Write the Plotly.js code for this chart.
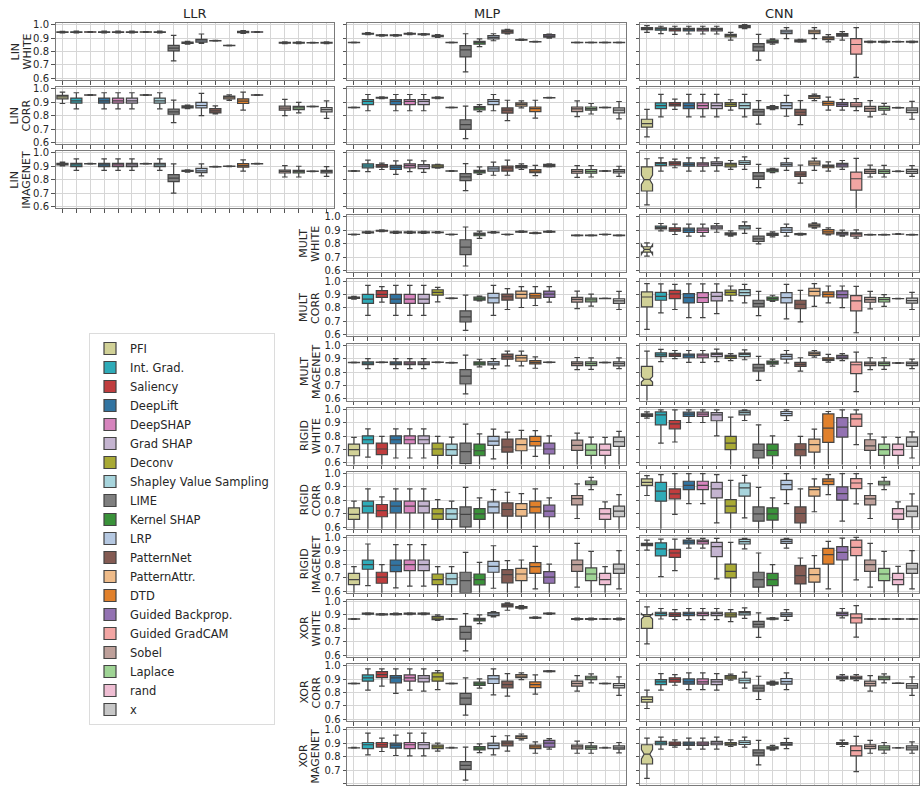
<!DOCTYPE html>
<html><head><meta charset="utf-8">
<script src="https://cdn.plot.ly/plotly-3.0.1.min.js"></script>
<style>html,body{margin:0;padding:0;background:#fff}#chart{width:921px;height:786px}</style>
</head><body><div id="chart"></div>
<script>
const METHODS = ['PFI','Int. Grad.','Saliency','DeepLift','DeepSHAP','Grad SHAP','Deconv','Shapley Value Sampling','LIME','Kernel SHAP','LRP','PatternNet','PatternAttr.','DTD','Guided Backprop.','Guided GradCAM','Sobel','Laplace','rand','x'];
const COLORS = ['#d1d197','#2eabb8','#c03d3e','#3274a1','#d684bd','#c4b4d0','#a9aa35','#a7d4dc','#7f7f7f','#3a923a','#b5c8e1','#845b53','#eebb89','#e1812c','#9372b2','#f2a5a3','#bea09a','#9fd495','#efbed3','#c7c7c7'];
const COLUMNS = ['LLR','MLP','CNN'];
const ROW_LINE1 = ['LIN','LIN','LIN','MULT','MULT','MULT','RIGID','RIGID','RIGID','XOR','XOR','XOR'];
const ROW_LINE2 = ['WHITE','CORR','IMAGENET','WHITE','CORR','MAGENET','WHITE','CORR','IMAGENET','WHITE','CORR','MAGENET'];
const Y_TICKS = [0.6,0.7,0.8,0.9,1.0];
const Y_TICK_TEXT = ['0.6','0.7','0.8','0.9','1.0'];
// notch half-spans of the PFI boxes in the CNN column, by row
const CNN_PFI_NOTCH = [0, 0, 0.035, 0.037, 0, 0.02, 0, 0, 0, 0.02, 0, 0.035];

// each entry: [lower whisker, q1, median, q3, upper whisker]
const LLR_LIN_WHITE = [
 [0.938,0.942,0.945,0.947,0.950],[0.938,0.942,0.945,0.947,0.951],[0.942,0.944,0.945,0.946,0.948],[0.938,0.942,0.945,0.947,0.951],
 [0.938,0.942,0.945,0.947,0.951],[0.938,0.942,0.945,0.947,0.951],[0.942,0.944,0.945,0.946,0.948],[0.938,0.942,0.945,0.947,0.951],
 [0.730,0.805,0.825,0.845,0.920],[0.855,0.860,0.865,0.870,0.875],[0.860,0.870,0.880,0.890,0.930],[0.877,0.879,0.880,0.881,0.883],
 [0.842,0.844,0.845,0.846,0.848],[0.935,0.940,0.945,0.950,0.955],[0.942,0.944,0.945,0.946,0.948],null,
 [0.858,0.862,0.865,0.868,0.872],[0.858,0.862,0.865,0.868,0.872],[0.862,0.864,0.865,0.866,0.868],[0.858,0.862,0.865,0.868,0.872]];
const LLR_LIN_CORR = [
 [0.890,0.925,0.940,0.950,0.975],[0.850,0.893,0.910,0.930,0.970],[0.950,0.952,0.953,0.954,0.956],[0.850,0.893,0.910,0.930,0.970],
 [0.850,0.893,0.910,0.930,0.970],[0.850,0.893,0.910,0.930,0.970],[0.950,0.952,0.953,0.954,0.956],[0.850,0.893,0.910,0.930,0.970],
 [0.748,0.810,0.828,0.848,0.915],[0.852,0.858,0.865,0.872,0.878],[0.800,0.858,0.875,0.898,0.965],[0.812,0.820,0.835,0.852,0.872],
 [0.913,0.925,0.937,0.945,0.955],[0.840,0.890,0.908,0.925,0.975],[0.950,0.952,0.953,0.954,0.956],null,
 [0.800,0.840,0.855,0.870,0.920],[0.820,0.845,0.857,0.868,0.898],[0.864,0.866,0.867,0.868,0.870],[0.780,0.828,0.845,0.860,0.910]];
const LLR_LIN_IMAGENET = [
 [0.903,0.910,0.915,0.922,0.930],[0.870,0.898,0.910,0.922,0.955],[0.915,0.917,0.918,0.919,0.921],[0.870,0.898,0.910,0.922,0.955],
 [0.870,0.898,0.910,0.922,0.955],[0.870,0.898,0.910,0.922,0.955],[0.915,0.917,0.918,0.919,0.921],[0.870,0.898,0.910,0.922,0.955],
 [0.700,0.785,0.812,0.838,0.917],[0.857,0.861,0.865,0.869,0.873],[0.828,0.852,0.866,0.884,0.917],[0.894,0.896,0.897,0.898,0.900],
 [0.897,0.899,0.900,0.901,0.903],[0.864,0.893,0.905,0.920,0.948],[0.915,0.917,0.918,0.919,0.921],null,
 [0.820,0.850,0.862,0.872,0.905],[0.820,0.850,0.860,0.870,0.900],[0.860,0.862,0.863,0.864,0.866],[0.825,0.850,0.860,0.870,0.897]];

const MLP_LIN_WHITE = [
 [0.864,0.866,0.867,0.868,0.870],[0.925,0.929,0.932,0.935,0.940],[0.914,0.917,0.920,0.923,0.926],[0.914,0.917,0.920,0.923,0.926],
 [0.926,0.929,0.932,0.935,0.938],[0.922,0.925,0.928,0.931,0.934],[0.905,0.910,0.915,0.920,0.925],[0.864,0.866,0.867,0.868,0.870],
 [0.648,0.760,0.812,0.843,0.932],[0.836,0.855,0.868,0.875,0.894],[0.880,0.894,0.905,0.918,0.932],[0.930,0.937,0.950,0.960,0.965],
 [0.882,0.885,0.887,0.889,0.892],[0.869,0.871,0.872,0.873,0.875],[0.900,0.906,0.915,0.925,0.930],null,
 [0.864,0.866,0.867,0.868,0.870],[0.864,0.866,0.867,0.868,0.870],[0.864,0.866,0.867,0.868,0.870],[0.864,0.866,0.867,0.868,0.870]];
const MLP_LIN_CORR = [
 [0.857,0.859,0.860,0.861,0.863],[0.836,0.881,0.905,0.919,0.957],[0.926,0.930,0.933,0.936,0.940],[0.836,0.881,0.905,0.919,0.957],
 [0.836,0.881,0.905,0.919,0.957],[0.836,0.881,0.905,0.919,0.957],[0.926,0.930,0.933,0.936,0.940],[0.857,0.859,0.860,0.861,0.863],
 [0.629,0.698,0.733,0.769,0.871],[0.829,0.843,0.857,0.867,0.881],[0.836,0.881,0.905,0.919,0.957],[0.762,0.819,0.840,0.857,0.914],
 [0.857,0.871,0.883,0.895,0.910],[0.781,0.829,0.852,0.864,0.914],[0.930,0.932,0.933,0.934,0.936],null,
 [0.793,0.829,0.850,0.864,0.910],[0.812,0.840,0.852,0.864,0.890],[0.857,0.859,0.860,0.861,0.863],[0.776,0.821,0.840,0.857,0.905]];
const MLP_LIN_IMAGENET = [
 [0.861,0.863,0.864,0.865,0.867],[0.860,0.888,0.902,0.917,0.945],[0.876,0.893,0.902,0.912,0.924],[0.840,0.876,0.893,0.907,0.940],
 [0.860,0.888,0.905,0.917,0.945],[0.855,0.883,0.900,0.912,0.940],[0.885,0.890,0.900,0.910,0.915],[0.861,0.863,0.864,0.865,0.867],
 [0.719,0.793,0.821,0.845,0.919],[0.840,0.850,0.860,0.869,0.895],[0.833,0.864,0.881,0.895,0.931],[0.833,0.864,0.888,0.902,0.945],
 [0.876,0.888,0.897,0.905,0.917],[0.831,0.852,0.864,0.876,0.907],[0.895,0.898,0.905,0.914,0.918],null,
 [0.817,0.848,0.862,0.876,0.905],[0.820,0.848,0.860,0.875,0.905],[0.861,0.863,0.864,0.865,0.867],[0.825,0.850,0.862,0.875,0.900]];
const MLP_MULT_WHITE = [
 [0.867,0.869,0.870,0.871,0.873],[0.878,0.882,0.885,0.888,0.892],[0.891,0.894,0.897,0.900,0.903],[0.878,0.882,0.885,0.888,0.892],
 [0.878,0.882,0.885,0.888,0.892],[0.878,0.882,0.885,0.888,0.892],[0.880,0.883,0.885,0.887,0.890],[0.867,0.869,0.870,0.871,0.873],
 [0.635,0.720,0.775,0.830,0.925],[0.840,0.860,0.870,0.880,0.895],[0.880,0.883,0.885,0.887,0.890],[0.867,0.869,0.870,0.871,0.873],
 [0.884,0.887,0.890,0.893,0.896],[0.875,0.878,0.880,0.882,0.885],[0.884,0.887,0.890,0.893,0.896],null,
 [0.858,0.860,0.862,0.864,0.866],[0.858,0.860,0.862,0.864,0.866],[0.867,0.869,0.870,0.871,0.873],[0.858,0.860,0.862,0.864,0.866]];
const MLP_MULT_CORR = [
 [0.865,0.870,0.875,0.880,0.885],[0.745,0.833,0.865,0.900,0.968],[0.843,0.878,0.900,0.928,0.958],[0.745,0.833,0.865,0.900,0.968],
 [0.745,0.833,0.865,0.900,0.968],[0.745,0.833,0.865,0.900,0.968],[0.845,0.895,0.915,0.935,0.953],[0.869,0.871,0.872,0.873,0.875],
 [0.633,0.695,0.733,0.778,0.895],[0.853,0.858,0.868,0.880,0.888],[0.745,0.838,0.875,0.908,0.968],[0.788,0.858,0.883,0.903,0.943],
 [0.803,0.873,0.900,0.925,0.958],[0.818,0.873,0.890,0.908,0.958],[0.843,0.878,0.903,0.925,0.958],null,
 [0.795,0.843,0.863,0.878,0.925],[0.813,0.845,0.860,0.873,0.903],[0.868,0.869,0.870,0.871,0.872],[0.788,0.833,0.853,0.868,0.923]];
const MLP_MULT_IMAGENET = [
 [0.867,0.869,0.870,0.871,0.873],[0.825,0.855,0.865,0.875,0.900],[0.869,0.871,0.872,0.873,0.875],[0.825,0.855,0.865,0.875,0.900],
 [0.825,0.855,0.865,0.875,0.900],[0.825,0.855,0.865,0.875,0.900],[0.869,0.871,0.872,0.873,0.875],[0.865,0.867,0.868,0.869,0.871],
 [0.638,0.712,0.770,0.818,0.925],[0.838,0.853,0.865,0.875,0.895],[0.825,0.853,0.865,0.878,0.900],[0.845,0.895,0.915,0.933,0.955],
 [0.845,0.880,0.905,0.923,0.955],[0.828,0.860,0.872,0.885,0.913],[0.869,0.871,0.872,0.873,0.875],null,
 [0.818,0.848,0.862,0.875,0.908],[0.820,0.848,0.862,0.875,0.905],[0.867,0.869,0.870,0.871,0.873],[0.825,0.845,0.862,0.875,0.905]];
const MLP_RIGID_WHITE = [
 [0.550,0.654,0.699,0.741,0.790],[0.644,0.743,0.773,0.802,0.854],[0.550,0.662,0.704,0.748,0.798],[0.637,0.743,0.773,0.802,0.854],
 [0.637,0.743,0.773,0.802,0.854],[0.637,0.743,0.773,0.802,0.854],[0.550,0.657,0.704,0.748,0.798],[0.550,0.657,0.699,0.741,0.793],
 [0.500,0.595,0.684,0.748,0.889],[0.550,0.654,0.691,0.741,0.817],[0.630,0.731,0.763,0.798,0.852],[0.550,0.681,0.719,0.778,0.830],
 [0.550,0.691,0.736,0.780,0.842],[0.649,0.728,0.760,0.798,0.840],[0.550,0.667,0.704,0.748,0.802],null,
 [0.550,0.694,0.731,0.770,0.822],[0.550,0.657,0.696,0.741,0.793],[0.550,0.657,0.696,0.741,0.790],[0.550,0.723,0.758,0.793,0.835]];
const MLP_RIGID_CORR = [
 [0.550,0.657,0.694,0.743,0.793],[0.550,0.706,0.756,0.793,0.884],[0.550,0.677,0.723,0.768,0.825],[0.550,0.706,0.756,0.793,0.884],
 [0.550,0.706,0.756,0.793,0.884],[0.550,0.706,0.756,0.793,0.884],[0.550,0.657,0.699,0.738,0.805],[0.550,0.657,0.699,0.738,0.793],
 [0.500,0.602,0.694,0.750,0.896],[0.550,0.657,0.699,0.738,0.817],[0.550,0.706,0.750,0.788,0.879],[0.550,0.681,0.731,0.780,0.859],
 [0.550,0.681,0.731,0.775,0.849],[0.550,0.706,0.751,0.793,0.884],[0.550,0.677,0.719,0.763,0.817],null,
 [0.664,0.765,0.812,0.835,0.921],[0.879,0.916,0.928,0.943,0.970],[0.550,0.657,0.699,0.738,0.788],[0.550,0.677,0.719,0.756,0.842]];
const MLP_RIGID_IMAGENET = [
 [0.550,0.649,0.686,0.733,0.783],[0.642,0.763,0.798,0.832,0.951],[0.550,0.659,0.704,0.741,0.798],[0.625,0.746,0.793,0.832,0.946],
 [0.637,0.753,0.798,0.832,0.946],[0.637,0.753,0.798,0.832,0.946],[0.550,0.649,0.686,0.728,0.783],[0.550,0.649,0.691,0.733,0.783],
 [0.500,0.588,0.679,0.741,0.889],[0.550,0.647,0.686,0.728,0.815],[0.622,0.741,0.785,0.822,0.938],[0.550,0.662,0.723,0.760,0.827],
 [0.550,0.679,0.728,0.770,0.832],[0.617,0.733,0.783,0.812,0.933],[0.550,0.659,0.704,0.746,0.802],null,
 [0.630,0.748,0.798,0.832,0.956],[0.550,0.679,0.728,0.773,0.896],[0.550,0.649,0.686,0.733,0.783],[0.617,0.733,0.765,0.802,0.901]];
const MLP_XOR_WHITE = [
 [0.867,0.869,0.870,0.871,0.873],[0.903,0.906,0.910,0.913,0.916],[0.898,0.901,0.905,0.908,0.911],[0.900,0.903,0.907,0.910,0.913],
 [0.903,0.906,0.910,0.913,0.916],[0.903,0.906,0.910,0.913,0.916],[0.860,0.865,0.877,0.890,0.900],[0.867,0.869,0.870,0.871,0.873],
 [0.633,0.720,0.770,0.815,0.910],[0.835,0.855,0.865,0.875,0.900],[0.885,0.895,0.907,0.917,0.925],[0.935,0.960,0.972,0.982,0.990],
 [0.945,0.950,0.955,0.962,0.970],[0.874,0.877,0.880,0.883,0.886],[0.904,0.907,0.910,0.913,0.916],null,
 [0.864,0.867,0.870,0.873,0.876],[0.864,0.867,0.870,0.873,0.876],[0.867,0.869,0.870,0.871,0.873],[0.864,0.867,0.870,0.873,0.876]];
const MLP_XOR_CORR = [
 [0.864,0.866,0.867,0.868,0.870],[0.817,0.884,0.909,0.931,0.975],[0.847,0.911,0.933,0.956,0.975],[0.793,0.872,0.909,0.926,0.975],
 [0.817,0.884,0.909,0.931,0.975],[0.810,0.879,0.906,0.926,0.975],[0.822,0.884,0.916,0.946,0.963],[0.864,0.866,0.867,0.868,0.870],
 [0.632,0.711,0.758,0.793,0.909],[0.832,0.852,0.864,0.877,0.901],[0.783,0.867,0.901,0.926,0.975],[0.773,0.835,0.859,0.884,0.941],
 [0.896,0.911,0.921,0.933,0.946],[0.788,0.837,0.859,0.879,0.931],[0.953,0.955,0.958,0.961,0.963],null,
 [0.810,0.847,0.867,0.884,0.926],[0.872,0.896,0.909,0.921,0.938],[0.864,0.866,0.867,0.868,0.870],[0.778,0.835,0.852,0.867,0.916]];
const MLP_XOR_IMAGENET = [
 [0.862,0.864,0.865,0.866,0.868],[0.813,0.860,0.888,0.905,0.975],[0.838,0.870,0.888,0.905,0.938],[0.808,0.863,0.885,0.900,0.960],
 [0.805,0.860,0.888,0.905,0.975],[0.805,0.860,0.888,0.905,0.975],[0.840,0.860,0.873,0.885,0.900],[0.862,0.864,0.865,0.866,0.868],
 [0.625,0.705,0.735,0.763,0.870],[0.830,0.850,0.863,0.875,0.895],[0.813,0.860,0.883,0.900,0.950],[0.840,0.880,0.900,0.915,0.955],
 [0.925,0.935,0.948,0.955,0.968],[0.825,0.860,0.873,0.885,0.910],[0.855,0.870,0.900,0.920,0.933],null,
 [0.825,0.858,0.873,0.885,0.915],[0.825,0.855,0.868,0.880,0.905],[0.862,0.864,0.865,0.866,0.868],[0.828,0.855,0.866,0.880,0.905]];

const CNN_LIN_WHITE = [
 [0.943,0.963,0.970,0.978,0.993],[0.933,0.958,0.968,0.975,0.988],[0.928,0.953,0.965,0.973,0.988],[0.930,0.953,0.965,0.973,0.988],
 [0.930,0.953,0.965,0.973,0.988],[0.930,0.953,0.965,0.973,0.988],[0.884,0.909,0.920,0.928,0.943],[0.970,0.978,0.985,0.993,1.000],
 [0.736,0.805,0.835,0.859,0.928],[0.854,0.864,0.874,0.884,0.894],[0.896,0.933,0.946,0.958,0.978],[0.870,0.872,0.879,0.886,0.890],
 [0.896,0.933,0.946,0.958,0.978],[0.872,0.889,0.899,0.909,0.926],[0.884,0.914,0.923,0.933,0.948],[0.607,0.780,0.852,0.896,0.978],
 [0.866,0.869,0.872,0.875,0.878],[0.866,0.869,0.872,0.875,0.878],[0.869,0.871,0.872,0.873,0.875],[0.866,0.869,0.872,0.875,0.878]];
const CNN_LIN_CORR = [
 [0.642,0.714,0.741,0.773,0.847],[0.790,0.852,0.874,0.894,0.958],[0.847,0.872,0.884,0.896,0.923],[0.790,0.852,0.874,0.894,0.958],
 [0.790,0.852,0.874,0.894,0.958],[0.790,0.852,0.874,0.894,0.958],[0.840,0.869,0.884,0.896,0.918],[0.790,0.852,0.874,0.896,0.958],
 [0.736,0.802,0.827,0.847,0.911],[0.845,0.852,0.859,0.867,0.874],[0.795,0.852,0.874,0.896,0.950],[0.733,0.802,0.825,0.847,0.911],
 [0.911,0.928,0.941,0.948,0.960],[0.840,0.877,0.891,0.906,0.938],[0.840,0.869,0.884,0.896,0.921],[0.837,0.867,0.879,0.896,0.926],
 [0.790,0.832,0.852,0.869,0.911],[0.810,0.840,0.854,0.869,0.891],[0.856,0.858,0.859,0.860,0.862],[0.773,0.822,0.840,0.857,0.906]];
const CNN_LIN_IMAGENET = [
 [0.612,0.716,0.800,0.896,0.956],[0.864,0.904,0.919,0.928,0.963],[0.889,0.909,0.921,0.933,0.953],[0.864,0.901,0.914,0.926,0.963],
 [0.864,0.901,0.916,0.926,0.963],[0.864,0.906,0.919,0.933,0.963],[0.877,0.896,0.911,0.921,0.943],[0.877,0.914,0.928,0.941,0.970],
 [0.741,0.802,0.827,0.852,0.914],[0.852,0.859,0.869,0.879,0.884],[0.869,0.901,0.914,0.926,0.958],[0.775,0.825,0.842,0.859,0.909],
 [0.869,0.909,0.923,0.938,0.960],[0.864,0.889,0.899,0.909,0.933],[0.877,0.896,0.911,0.921,0.943],[0.560,0.723,0.807,0.857,0.958],
 [0.820,0.847,0.862,0.877,0.909],[0.820,0.847,0.862,0.874,0.906],[0.859,0.861,0.862,0.863,0.865],[0.825,0.847,0.862,0.877,0.904]];
const CNN_MULT_WHITE = [
 [0.709,0.738,0.758,0.778,0.807],[0.896,0.911,0.921,0.931,0.951],[0.869,0.894,0.906,0.919,0.946],[0.857,0.884,0.901,0.916,0.946],
 [0.857,0.884,0.901,0.916,0.946],[0.886,0.911,0.923,0.933,0.951],[0.857,0.867,0.874,0.881,0.896],[0.877,0.911,0.926,0.936,0.963],
 [0.800,0.817,0.837,0.857,0.914],[0.852,0.862,0.869,0.877,0.889],[0.857,0.884,0.901,0.921,0.946],[0.865,0.868,0.872,0.875,0.878],
 [0.916,0.926,0.936,0.946,0.956],[0.867,0.874,0.889,0.906,0.919],[0.857,0.867,0.877,0.886,0.901],[0.842,0.857,0.872,0.881,0.904],
 [0.864,0.866,0.867,0.868,0.870],[0.864,0.866,0.867,0.868,0.870],[0.869,0.871,0.872,0.873,0.875],[0.864,0.866,0.867,0.868,0.870]];
const CNN_MULT_CORR = [
 [0.640,0.807,0.881,0.919,0.980],[0.763,0.857,0.886,0.916,0.978],[0.788,0.869,0.904,0.931,0.975],[0.728,0.837,0.877,0.906,0.978],
 [0.728,0.840,0.877,0.914,0.978],[0.758,0.852,0.886,0.916,0.978],[0.852,0.894,0.916,0.933,0.963],[0.837,0.891,0.914,0.936,0.975],
 [0.743,0.807,0.832,0.857,0.923],[0.849,0.857,0.869,0.881,0.894],[0.719,0.837,0.877,0.914,0.975],[0.696,0.795,0.827,0.857,0.931],
 [0.812,0.889,0.923,0.946,0.980],[0.837,0.881,0.901,0.919,0.963],[0.802,0.874,0.899,0.926,0.963],[0.615,0.778,0.852,0.891,0.960],
 [0.793,0.842,0.862,0.879,0.923],[0.812,0.844,0.862,0.877,0.899],[0.867,0.868,0.869,0.870,0.871],[0.788,0.835,0.854,0.872,0.916]];
const CNN_MULT_IMAGENET = [
 [0.560,0.701,0.746,0.842,0.956],[0.877,0.914,0.928,0.943,0.968],[0.899,0.916,0.928,0.938,0.960],[0.872,0.906,0.921,0.933,0.960],
 [0.872,0.906,0.921,0.933,0.960],[0.877,0.914,0.931,0.941,0.970],[0.884,0.901,0.914,0.923,0.936],[0.891,0.914,0.931,0.941,0.965],
 [0.738,0.807,0.830,0.857,0.916],[0.844,0.859,0.869,0.881,0.896],[0.867,0.896,0.916,0.931,0.960],[0.807,0.842,0.857,0.872,0.906],
 [0.911,0.923,0.936,0.948,0.960],[0.874,0.886,0.896,0.906,0.931],[0.884,0.899,0.911,0.923,0.936],[0.654,0.788,0.854,0.874,0.948],
 [0.817,0.847,0.862,0.874,0.906],[0.820,0.847,0.862,0.874,0.906],[0.864,0.866,0.867,0.868,0.870],[0.825,0.847,0.862,0.874,0.896]];
const CNN_RIGID_WHITE = [
 [0.933,0.946,0.956,0.965,0.980],[0.748,0.884,0.958,0.980,0.995],[0.756,0.854,0.891,0.916,0.995],[0.901,0.946,0.963,0.978,0.995],
 [0.901,0.946,0.963,0.978,0.995],[0.802,0.914,0.958,0.975,0.995],[0.550,0.699,0.748,0.798,0.941],[0.916,0.958,0.975,0.988,0.995],
 [0.500,0.637,0.694,0.741,0.884],[0.550,0.654,0.694,0.741,0.802],[0.916,0.953,0.968,0.983,0.995],[0.550,0.654,0.699,0.743,0.798],
 [0.550,0.681,0.736,0.778,0.852],[0.550,0.753,0.859,0.965,0.983],[0.550,0.793,0.867,0.938,0.995],[0.736,0.872,0.928,0.963,0.995],
 [0.550,0.694,0.728,0.773,0.817],[0.550,0.657,0.699,0.741,0.793],[0.550,0.657,0.699,0.741,0.790],[0.637,0.723,0.756,0.793,0.832]];
const CNN_RIGID_CORR = [
 [0.835,0.911,0.933,0.958,0.983],[0.550,0.793,0.867,0.933,0.990],[0.694,0.810,0.847,0.884,0.998],[0.775,0.879,0.911,0.941,0.998],
 [0.775,0.879,0.911,0.941,0.998],[0.632,0.817,0.884,0.933,0.990],[0.550,0.706,0.756,0.805,0.948],[0.669,0.830,0.891,0.928,0.985],
 [0.500,0.644,0.699,0.750,0.896],[0.550,0.652,0.699,0.743,0.817],[0.775,0.879,0.916,0.948,0.998],[0.550,0.632,0.701,0.750,0.884],
 [0.714,0.830,0.879,0.899,0.958],[0.842,0.916,0.941,0.958,0.990],[0.644,0.800,0.849,0.899,0.998],[0.773,0.886,0.928,0.960,0.998],
 [0.664,0.765,0.810,0.835,0.923],[0.879,0.914,0.928,0.941,0.970],[0.550,0.657,0.699,0.738,0.788],[0.550,0.677,0.719,0.756,0.847]];
const CNN_RIGID_IMAGENET = [
 [0.906,0.938,0.946,0.956,0.980],[0.709,0.862,0.914,0.960,0.988],[0.753,0.852,0.884,0.911,0.988],[0.921,0.951,0.965,0.980,0.993],
 [0.921,0.951,0.968,0.980,0.993],[0.691,0.857,0.931,0.963,0.993],[0.550,0.699,0.748,0.802,0.963],[0.914,0.951,0.968,0.985,0.993],
 [0.500,0.630,0.686,0.741,0.884],[0.550,0.642,0.686,0.733,0.798],[0.921,0.956,0.970,0.985,0.993],[0.550,0.654,0.716,0.790,0.847],
 [0.550,0.667,0.723,0.770,0.864],[0.617,0.802,0.872,0.919,0.970],[0.550,0.832,0.889,0.931,0.995],[0.684,0.864,0.926,0.980,1.000],
 [0.630,0.748,0.798,0.832,0.956],[0.550,0.679,0.728,0.770,0.896],[0.550,0.649,0.686,0.733,0.785],[0.617,0.733,0.765,0.807,0.901]];
const CNN_XOR_WHITE = [
 [0.685,0.800,0.890,0.903,0.960],[0.870,0.895,0.910,0.920,0.948],[0.865,0.890,0.903,0.915,0.940],[0.865,0.895,0.910,0.920,0.948],
 [0.865,0.895,0.910,0.920,0.948],[0.865,0.895,0.910,0.920,0.948],[0.850,0.885,0.900,0.915,0.940],[0.875,0.900,0.915,0.925,0.953],
 [0.733,0.810,0.830,0.853,0.915],[0.865,0.868,0.873,0.877,0.880],[0.860,0.890,0.903,0.915,0.940],null,
 null,null,[0.878,0.895,0.910,0.920,0.948],[0.735,0.840,0.878,0.908,0.970],
 [0.867,0.869,0.870,0.871,0.873],[0.867,0.869,0.870,0.871,0.873],[0.867,0.869,0.870,0.871,0.873],[0.867,0.869,0.870,0.871,0.873]];
const CNN_XOR_CORR = [
 [0.681,0.728,0.748,0.768,0.817],[0.817,0.859,0.879,0.896,0.941],[0.854,0.877,0.896,0.909,0.933],[0.822,0.862,0.879,0.901,0.946],
 [0.822,0.862,0.879,0.901,0.946],[0.817,0.859,0.879,0.896,0.941],[0.891,0.901,0.914,0.926,0.936],[0.832,0.872,0.891,0.906,0.951],
 [0.748,0.810,0.832,0.854,0.921],[0.854,0.862,0.869,0.877,0.884],[0.822,0.862,0.881,0.904,0.946],null,
 null,null,[0.889,0.901,0.911,0.921,0.933],[0.889,0.901,0.911,0.921,0.933],
 [0.810,0.849,0.867,0.884,0.926],[0.872,0.896,0.909,0.921,0.938],[0.867,0.868,0.869,0.870,0.871],[0.778,0.832,0.849,0.867,0.916]];
const CNN_XOR_IMAGENET = [
 [0.638,0.745,0.818,0.888,0.938],[0.855,0.888,0.900,0.913,0.945],[0.870,0.883,0.895,0.908,0.925],[0.855,0.883,0.895,0.908,0.938],
 [0.855,0.883,0.895,0.908,0.938],[0.855,0.888,0.900,0.913,0.945],[0.875,0.885,0.895,0.905,0.925],[0.870,0.890,0.905,0.918,0.945],
 [0.738,0.805,0.828,0.850,0.920],[0.848,0.858,0.865,0.873,0.883],[0.860,0.885,0.895,0.905,0.935],null,
 null,null,[0.875,0.890,0.898,0.905,0.923],[0.688,0.805,0.845,0.880,0.950],
 [0.825,0.860,0.875,0.888,0.920],[0.825,0.850,0.865,0.880,0.905],[0.863,0.864,0.865,0.866,0.867],[0.825,0.850,0.865,0.880,0.910]];

const PANELS = [
 {col:0,row:0,data:LLR_LIN_WHITE},{col:0,row:1,data:LLR_LIN_CORR},{col:0,row:2,data:LLR_LIN_IMAGENET},
 {col:1,row:0,data:MLP_LIN_WHITE},{col:1,row:1,data:MLP_LIN_CORR},{col:1,row:2,data:MLP_LIN_IMAGENET},
 {col:1,row:3,data:MLP_MULT_WHITE},{col:1,row:4,data:MLP_MULT_CORR},{col:1,row:5,data:MLP_MULT_IMAGENET},
 {col:1,row:6,data:MLP_RIGID_WHITE},{col:1,row:7,data:MLP_RIGID_CORR},{col:1,row:8,data:MLP_RIGID_IMAGENET},
 {col:1,row:9,data:MLP_XOR_WHITE},{col:1,row:10,data:MLP_XOR_CORR},{col:1,row:11,data:MLP_XOR_IMAGENET},
 {col:2,row:0,data:CNN_LIN_WHITE},{col:2,row:1,data:CNN_LIN_CORR},{col:2,row:2,data:CNN_LIN_IMAGENET},
 {col:2,row:3,data:CNN_MULT_WHITE},{col:2,row:4,data:CNN_MULT_CORR},{col:2,row:5,data:CNN_MULT_IMAGENET},
 {col:2,row:6,data:CNN_RIGID_WHITE},{col:2,row:7,data:CNN_RIGID_CORR},{col:2,row:8,data:CNN_RIGID_IMAGENET},
 {col:2,row:9,data:CNN_XOR_WHITE},{col:2,row:10,data:CNN_XOR_CORR},{col:2,row:11,data:CNN_XOR_IMAGENET}
];

// ---- layout geometry (pixels) ----
const W = 921, H = 786;
const COL_X = [[55.5,333.5],[347,626],[640,919]];
const ROW_TOP0 = 23, ROW_PITCH = 64.1, ROW_H = 57;
const FONT = 'DejaVu Sans';
const TXT = '#262626';

const traces = [];
const layout = {
  width: W, height: H, margin: {l:0,r:0,t:0,b:0},
  paper_bgcolor: '#fff', plot_bgcolor: '#fff',
  font: {family: FONT, color: TXT, size: 10},
  boxmode: 'overlay', showlegend: true,
  legend: {x: 89/W, y: 1-529/H, xanchor:'left', yanchor:'middle', bgcolor:'#fff', bordercolor:'#dcdcdc', borderwidth:1,
           font:{family:FONT, size:11.5, color:TXT}, tracegroupgap:0, itemwidth:30},
  annotations: []
};
const shown = {};
const catIdx = METHODS.map((m,i)=>i);

PANELS.forEach((p,k)=>{
  const id = k===0 ? '' : String(k+1);
  const [x0,x1] = COL_X[p.col];
  const top = ROW_TOP0 + p.row*ROW_PITCH, bot = top + ROW_H;
  const showY = (p.col===0) || (p.col===1 && p.row>=3);
  layout['xaxis'+id] = {domain:[x0/W, x1/W], anchor:'y'+id, range:[-0.5,19.5], tickvals:catIdx, showticklabels:false,
    ticks:'outside', ticklen:3.5, tickwidth:1, tickcolor:'#555', showgrid:true, gridcolor:'#d6d6d6', gridwidth:1,
    showline:true, mirror:true, linecolor:'#7a7a7a', linewidth:1, zeroline:false, fixedrange:true};
  layout['yaxis'+id] = {domain:[1-bot/H, 1-top/H], anchor:'x'+id, range:[0.588,1.012], tickvals:Y_TICKS, ticktext:Y_TICK_TEXT,
    showticklabels:showY, ticks:'outside', ticklen:3.5, tickwidth:1, tickcolor:'#555', showgrid:true, gridcolor:'#d6d6d6', gridwidth:1,
    showline:true, mirror:true, linecolor:'#7a7a7a', linewidth:1, zeroline:false, fixedrange:true,
    tickfont:{family:FONT, size:10, color:TXT}};
  p.data.forEach((s,i)=>{
    if(!s) return;
    const tr = {type:'box', xaxis:'x'+id, yaxis:'y'+id, x:[i], lowerfence:[s[0]], q1:[s[1]], median:[s[2]], q3:[s[3]], upperfence:[s[4]],
      width:0.8, fillcolor:COLORS[i], line:{color:'#444444', width:1.2}, whiskerwidth:0.5, boxpoints:false,
      name:METHODS[i], showlegend:!shown[i], legendrank:i+1, hoverinfo:'skip'};
    if(p.col===2 && i===0 && CNN_PFI_NOTCH[p.row]>0){ tr.notched = true; tr.notchspan = [CNN_PFI_NOTCH[p.row]]; tr.notchwidth = 0.25; }
    shown[i] = true;
    traces.push(tr);
  });
});

// column titles
COLUMNS.forEach((c,j)=>{
  layout.annotations.push({text:c, xref:'paper', yref:'paper', x:(COL_X[j][0]+COL_X[j][1])/2/W, y:1-13/H,
    xanchor:'center', yanchor:'middle', showarrow:false, font:{family:FONT, size:13, color:TXT}});
});
// row labels (two rotated lines)
const LABEL_X = {0:[15,27], 1:[304,316]};
for(let r=0;r<12;r++){
  const col = r<3 ? 0 : 1;
  const yc = 1 - (ROW_TOP0 + r*ROW_PITCH + ROW_H/2)/H;
  [ROW_LINE1[r], ROW_LINE2[r]].forEach((t,li)=>{
    layout.annotations.push({text:t, xref:'paper', yref:'paper', x:LABEL_X[col][li]/W, y:yc, textangle:-90,
      xanchor:'center', yanchor:'middle', showarrow:false, font:{family:FONT, size:11, color:TXT}});
  });
}
Plotly.newPlot('chart', traces, layout, {displayModeBar:false, staticPlot:true});
</script></body></html>
